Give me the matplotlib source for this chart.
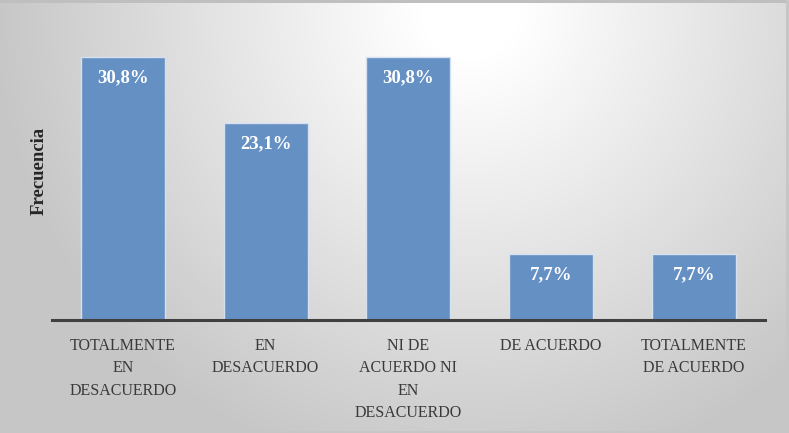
import matplotlib.pyplot as plt
import numpy as np

categorias = ['TOTALMENTE\nEN\nDESACUERDO', 'EN\nDESACUERDO',
              'NI DE\nACUERDO NI\nEN\nDESACUERDO', 'DE ACUERDO',
              'TOTALMENTE\nDE ACUERDO']
porcentajes = [30.8, 23.1, 30.8, 7.7, 7.7]
etiquetas = ['30,8%', '23,1%', '30,8%', '7,7%', '7,7%']

plt.rcParams['font.family'] = ['Liberation Serif', 'DejaVu Serif']

W, H = 789, 433
fig = plt.figure(figsize=(W / 100, H / 100), dpi=100)

# fondo con degradado radial (blanco arriba al centro, gris en los bordes)
yy, xx = np.mgrid[0:H, 0:W]
r = np.sqrt((xx - 470) ** 2 + (yy - 10) ** 2)
val = 255 - 57 * np.clip((r - 50) / 430.0, 0, 1)
bg = np.dstack([val, val, val]) / 255.0
bg[0:3, :, :] = 0.75  # borde superior
bg[:, -3:, :] = 0.78
bg[-2:, :, :] = 0.78
bg_ax = fig.add_axes([0, 0, 1, 1], zorder=-1)
bg_ax.imshow(bg, aspect='auto', interpolation='bilinear')
bg_ax.axis('off')

ax = fig.add_axes([0.0654, 0.261, 0.9042, 0.6905])
ax.patch.set_alpha(0)

x = np.arange(len(categorias))
bars = ax.bar(x, porcentajes, width=0.59, color='#6590C3',
              edgecolor='#d6e1ef', linewidth=1.0, zorder=2)

for b, t in zip(bars, etiquetas):
    ax.annotate(t, (b.get_x() + b.get_width() / 2, b.get_height()),
                xytext=(0, -15), textcoords='offset points',
                ha='center', va='center', color='white',
                fontsize=13.5, fontweight='bold')

ax.set_xlim(-0.5, 4.5)
ax.set_ylim(0, 35)
ax.set_yticks([])
ax.set_xticks(x)
ax.set_xticklabels(categorias, fontsize=11.5, color='#3a3a3a', linespacing=1.52)
ax.tick_params(axis='x', length=0, pad=13)

for s in ['top', 'right', 'left']:
    ax.spines[s].set_visible(False)
ax.spines['bottom'].set_color('#404040')
ax.spines['bottom'].set_linewidth(2.2)
ax.spines['bottom'].set_zorder(3)

ax.set_ylabel('Frecuencia', fontsize=13.5, fontweight='bold', color='#262626',
              labelpad=3)

plt.savefig('out.png', dpi=100)
